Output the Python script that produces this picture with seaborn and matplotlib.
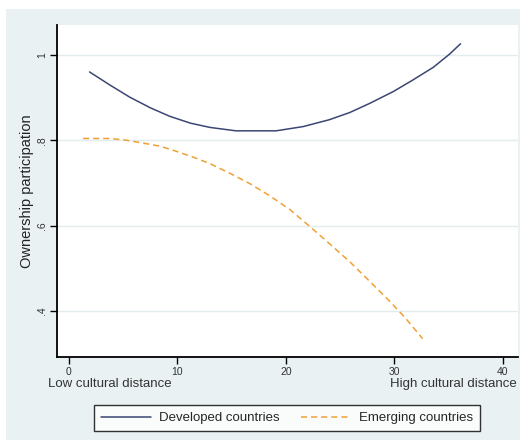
import pandas as pd
import matplotlib.pyplot as plt
import seaborn as sns
from matplotlib.patches import Rectangle

# values
dev_x = [1.9, 3.8, 5.6, 7.5, 9.3, 11.2, 13.0, 15.4, 19.1, 21.6, 24.0, 25.9,
         27.7, 29.9, 31.7, 33.6, 35.1, 36.1]
dev_y = [0.960, 0.929, 0.901, 0.876, 0.856, 0.840, 0.830, 0.822, 0.822, 0.832, 0.848, 0.865,
         0.886, 0.914, 0.941, 0.971, 1.002, 1.026]
emg_x = [1.3, 3.8, 5.3, 6.9, 8.4, 9.9, 11.5, 13.0, 14.8, 16.7, 18.5, 20.4,
         22.2, 24.0, 25.9, 27.7, 29.6, 31.1, 32.6]
emg_y = [0.804, 0.804, 0.800, 0.793, 0.786, 0.774, 0.760, 0.745, 0.723, 0.698, 0.670, 0.637,
         0.598, 0.558, 0.515, 0.470, 0.422, 0.381, 0.335]
series_names = ['Developed countries', 'Emerging countries']
y_ticks = [0.4, 0.6, 0.8, 1.0]
y_tick_labels = ['.4', '.6', '.8', '1']
x_ticks = [0, 10, 20, 30, 40]

df = pd.concat([
    pd.DataFrame({'distance': dev_x, 'participation': dev_y, 'group': series_names[0]}),
    pd.DataFrame({'distance': emg_x, 'participation': emg_y, 'group': series_names[1]}),
])

sns.set_style('white')
plt.rcParams['font.family'] = ['Liberation Sans', 'DejaVu Sans']

bg = '#eaf1f3'
navy = '#3c4672'
orange = '#f0a033'

fig = plt.figure(figsize=(5.25, 4.46), dpi=100)
fig.patch.set_facecolor('white')
fig.patches.append(Rectangle((6 / 525, 1 - 440 / 446), 514 / 525, 431 / 446,
                             transform=fig.transFigure, facecolor=bg, edgecolor='none', zorder=-10))

ax = fig.add_axes([57 / 525, 1 - 357 / 446, 461 / 525, 332 / 446])
ax.set_facecolor('white')

sns.lineplot(data=df, x='distance', y='participation', hue='group', style='group',
             palette=[navy, orange], dashes=[(None, None), (4, 2.6)], linewidth=1.1,
             sort=False, ax=ax, legend=False)

ax.set_xlim(-1.1, 41.4)
ax.set_ylim(0.292, 1.07)
ax.set_xticks(x_ticks)
ax.set_yticks(y_ticks)
ax.set_yticklabels(y_tick_labels, rotation=90, va='center')
ax.tick_params(axis='both', direction='out', length=5, width=1, color='black',
               labelsize=7.5, labelcolor='#333333', left=True, bottom=True, pad=2)
ax.grid(axis='y', color='#e3ecef', linewidth=1)
ax.grid(axis='x', visible=False)
for s in ['top', 'right']:
    ax.spines[s].set_visible(False)
for s in ['left', 'bottom']:
    ax.spines[s].set_color('black')
    ax.spines[s].set_linewidth(1.3)
ax.set_xlabel('')
ax.set_ylabel('Ownership participation', fontsize=10.5, color='#222222', labelpad=2)

fig.text(48 / 525, 1 - 384 / 446, 'Low cultural distance', fontsize=9.5, color='#333333',
         ha='left', va='center')
fig.text(517 / 525, 1 - 384 / 446, 'High cultural distance', fontsize=9.5, color='#333333',
         ha='right', va='center')

handles = [plt.Line2D([], [], color=navy, linewidth=1.1),
           plt.Line2D([], [], color=orange, linewidth=1.1, dashes=(4, 2.6))]
leg = fig.legend(handles, series_names, loc='center', bbox_to_anchor=(287 / 525, 1 - 418 / 446),
                 ncol=2, fontsize=9.5, frameon=True, fancybox=False, handlelength=3.8,
                 handletextpad=0.6, columnspacing=1.6, borderpad=0.5)
leg.get_frame().set_edgecolor('black')
leg.get_frame().set_linewidth(1)

plt.savefig('out.png', dpi=100, facecolor=fig.get_facecolor())
